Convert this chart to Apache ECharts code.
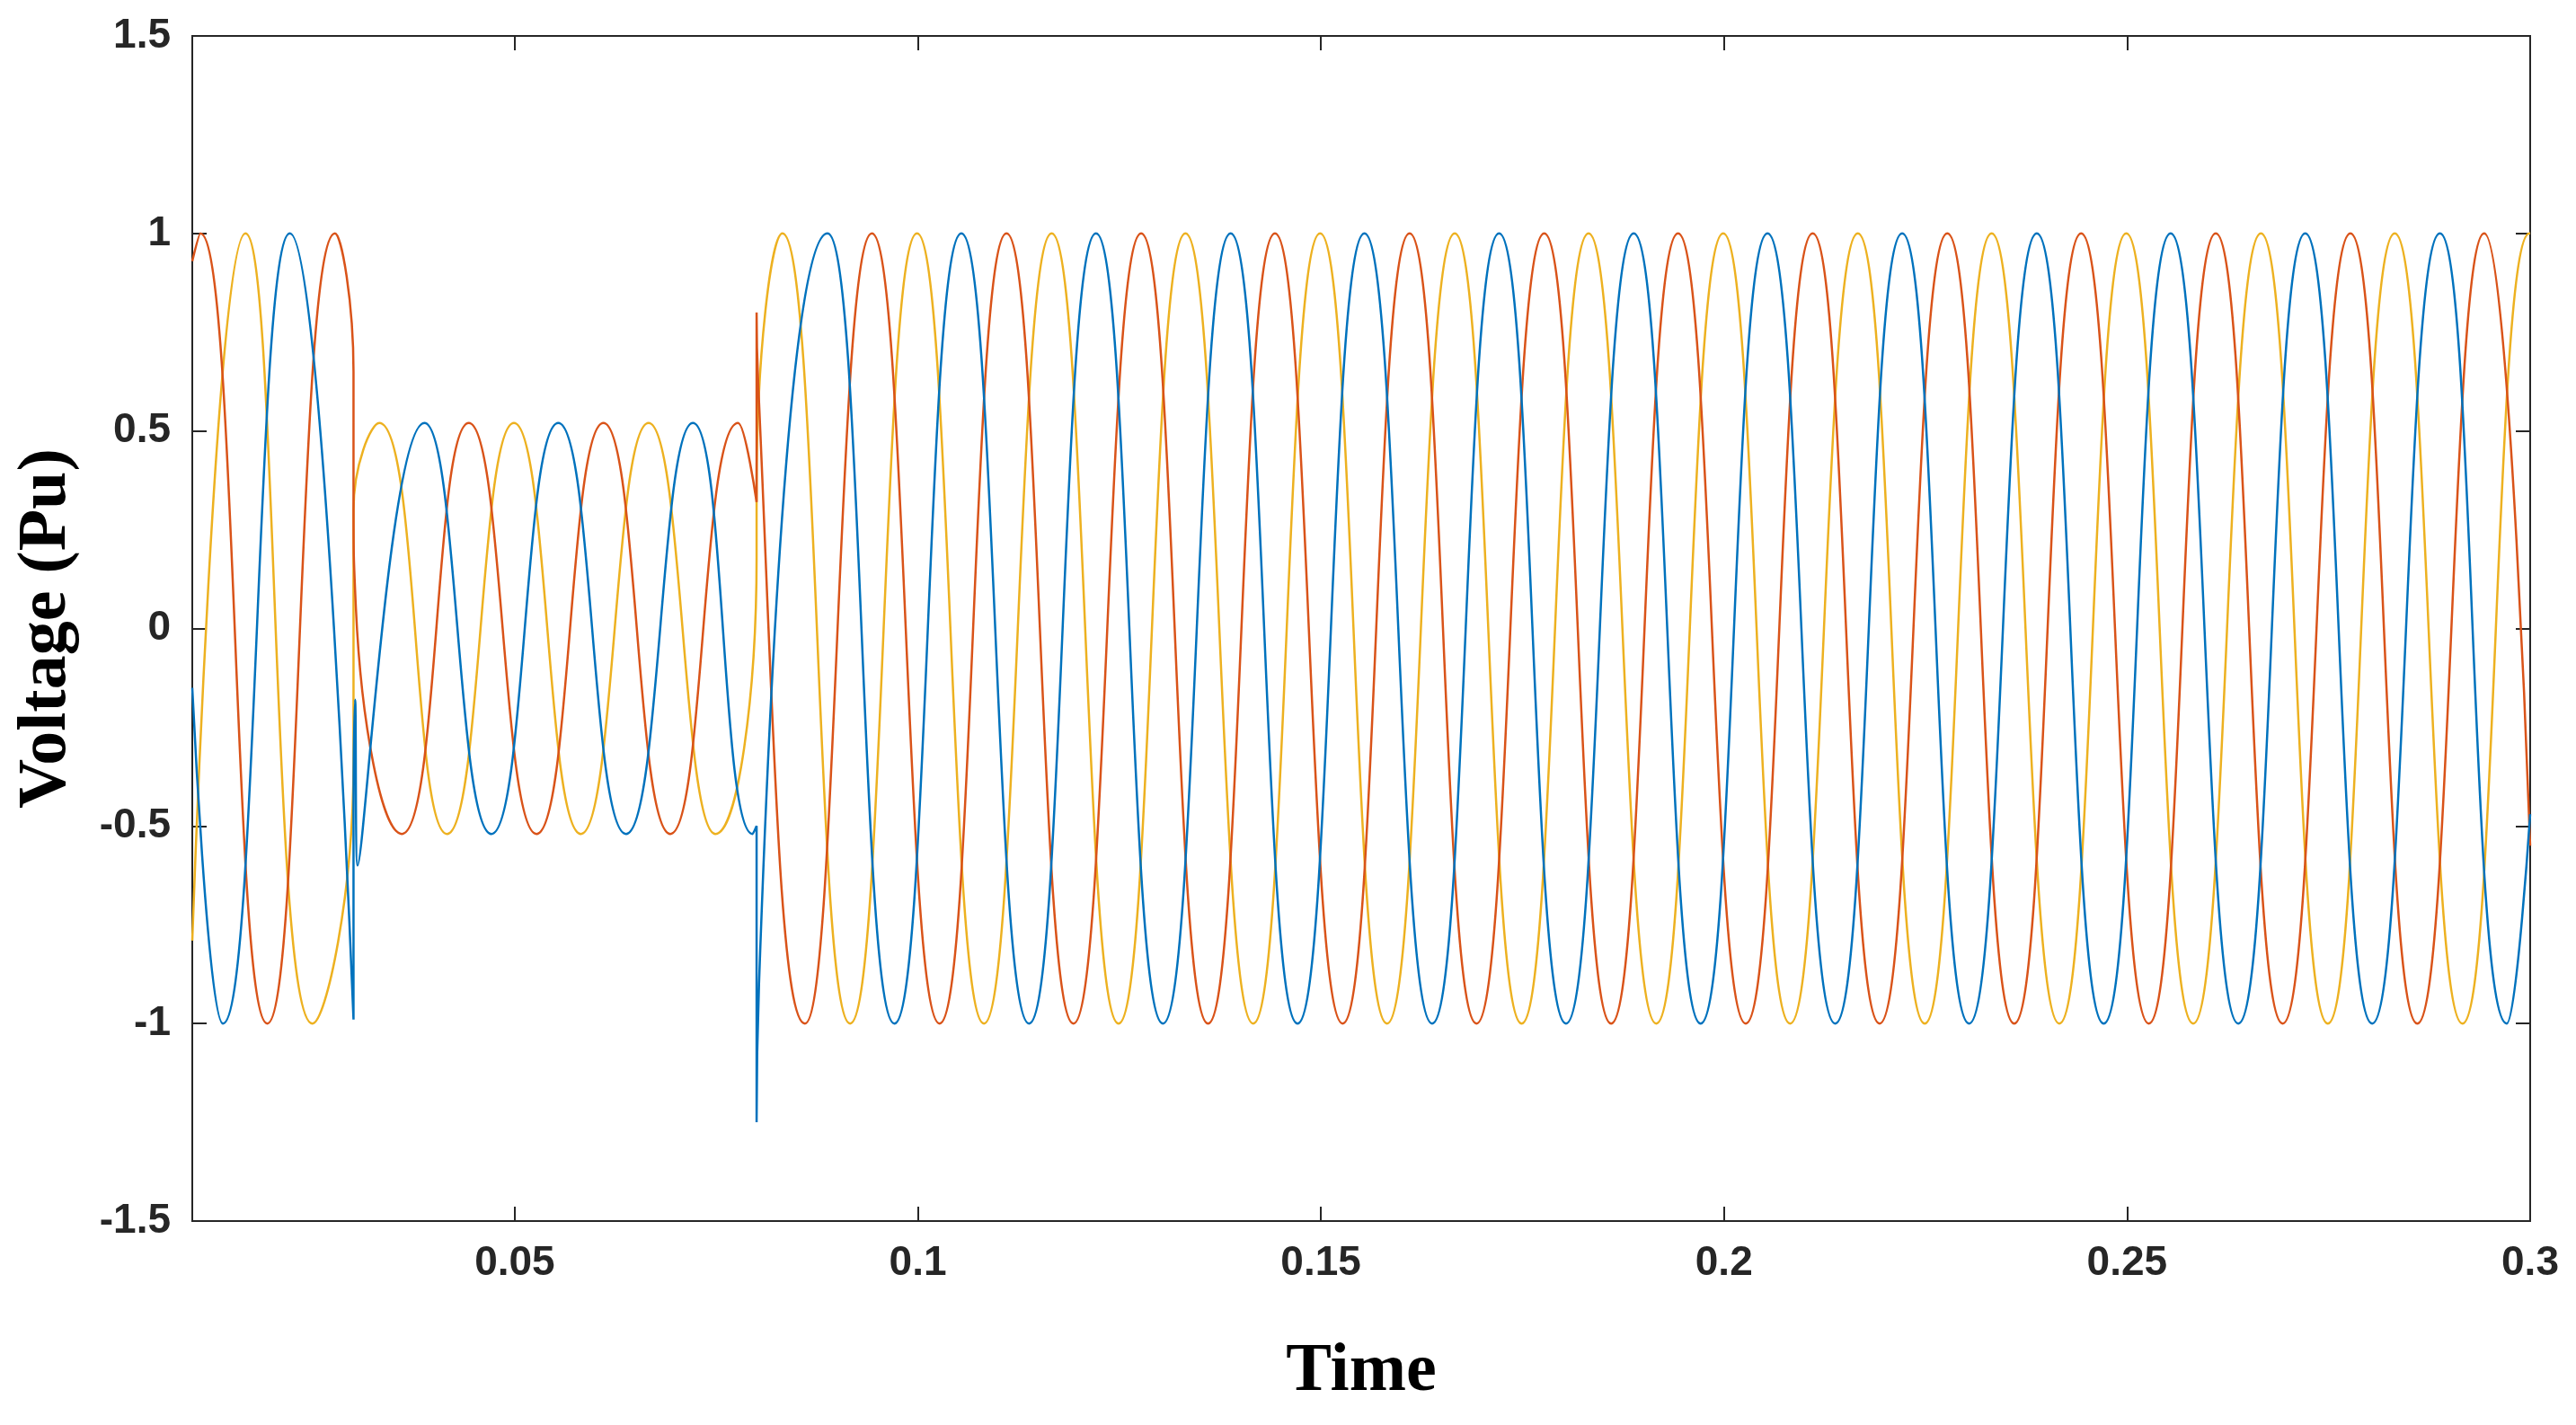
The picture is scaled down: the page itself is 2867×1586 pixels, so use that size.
<!DOCTYPE html>
<html>
<head>
<meta charset="utf-8">
<script src="https://cdn.jsdelivr.net/npm/echarts@6/dist/echarts.min.js"></script>
<style>html,body{margin:0;padding:0;background:#fff}#chart{width:2867px;height:1586px}</style>
</head>
<body>
<div id="chart"></div>
<script>
// tick labels
var xTicks = [0.05, 0.1, 0.15, 0.2, 0.25, 0.3];
var yTicks = [-1.5, -1, -0.5, 0, 0.5, 1, 1.5];

// extrema, [time, voltage]
var phaseRed = [[0.01,0.93],[0.011,1],[0.0193,-1],[0.0277,1],[0.03,0.65],[0.03,0.32],[0.0303,0.05],[0.036,-0.52],
  [0.0443,0.52],[0.0527,-0.52],[0.061,0.52],[0.0693,-0.52],[0.0777,0.52],[0.08,0.32],[0.08,0.8],[0.0802,0.62],
  [0.086,-1],[0.0943,1],[0.1027,-1],[0.111,1],[0.1193,-1],[0.1277,1],[0.136,-1],[0.1443,1],[0.1527,-1],[0.161,1],
  [0.1693,-1],[0.1777,1],[0.186,-1],[0.1943,1],[0.2027,-1],[0.211,1],[0.2193,-1],[0.2277,1],[0.236,-1],[0.2443,1],
  [0.2527,-1],[0.261,1],[0.2693,-1],[0.2777,1],[0.286,-1],[0.2943,1],[0.3,-0.55]];
var phaseBlue = [[0.01,-0.15],[0.0138,-1],[0.0221,1],[0.03,-0.99],[0.03,-0.5],[0.0302,-0.18],[0.0305,-0.6],
  [0.0388,0.52],[0.0471,-0.52],[0.0554,0.52],[0.0638,-0.52],[0.0721,0.52],[0.0795,-0.52],[0.08,-0.5],[0.08,-1.25],
  [0.0803,-0.9],[0.0888,1],[0.0971,-1],[0.1054,1],[0.1138,-1],[0.1221,1],[0.1304,-1],[0.1388,1],[0.1471,-1],
  [0.1554,1],[0.1638,-1],[0.1721,1],[0.1804,-1],[0.1888,1],[0.1971,-1],[0.2054,1],[0.2138,-1],[0.2221,1],
  [0.2304,-1],[0.2388,1],[0.2471,-1],[0.2554,1],[0.2638,-1],[0.2721,1],[0.2804,-1],[0.2888,1],[0.2971,-1],[0.3,-0.47]];
var phaseYellow = [[0.01,-0.79],[0.0166,1],[0.0249,-1],[0.03,-0.34],[0.03,0.3],[0.0332,0.52],[0.0416,-0.52],
  [0.0499,0.52],[0.0582,-0.52],[0.0666,0.52],[0.0749,-0.52],[0.08,0.18],[0.08,0.36],[0.0832,1],[0.0916,-1],
  [0.0999,1],[0.1082,-1],[0.1166,1],[0.1249,-1],[0.1332,1],[0.1416,-1],[0.1499,1],[0.1582,-1],[0.1666,1],
  [0.1749,-1],[0.1832,1],[0.1916,-1],[0.1999,1],[0.2082,-1],[0.2166,1],[0.2249,-1],[0.2332,1],[0.2416,-1],
  [0.2499,1],[0.2582,-1],[0.2666,1],[0.2749,-1],[0.2832,1],[0.2916,-1],[0.2999,1],[0.3,1]];

var lab = {fontFamily:'Liberation Sans', fontWeight:'bold', fontSize:46, color:'#262626'};
function mkLine(name, data, color){
  return {name:name, type:'line', data:data, smooth:0.5, showSymbol:false, symbol:'none',
    lineStyle:{color:color, width:2.5}, animation:false};
}
var option = {
  backgroundColor:'#fff',
  grid:{left:214, right:51, top:40, bottom:227, show:true, borderColor:'#262626', borderWidth:2},
  xAxis:[{
    type:'value', min:0.01, max:0.3,
    name:'Time', nameLocation:'middle', nameGap:130,
    nameTextStyle:{fontFamily:'Liberation Serif', fontWeight:'bold', fontSize:76, color:'#000'},
    axisLine:{onZero:false, lineStyle:{color:'#262626', width:2}},
    axisTick:{inside:true, length:16, customValues:xTicks, lineStyle:{color:'#262626', width:2}},
    axisLabel:Object.assign({margin:24, customValues:xTicks, formatter:function(v){return String(+v.toFixed(2));}}, lab),
    splitLine:{show:false}
  },{
    type:'value', position:'top', min:0.01, max:0.3,
    axisLine:{onZero:false, lineStyle:{color:'#262626', width:2}},
    axisTick:{inside:true, length:16, customValues:xTicks, lineStyle:{color:'#262626', width:2}},
    axisLabel:{show:false}, splitLine:{show:false}
  }],
  yAxis:[{
    type:'value', min:-1.5, max:1.5, interval:0.5,
    name:'Voltage (Pu)', nameLocation:'middle', nameGap:124,
    nameTextStyle:{fontFamily:'Liberation Serif', fontWeight:'bold', fontSize:76, color:'#000'},
    axisLine:{onZero:false, lineStyle:{color:'#262626', width:2}},
    axisTick:{inside:true, length:16, lineStyle:{color:'#262626', width:2}},
    axisLabel:Object.assign({margin:24}, lab),
    splitLine:{show:false}
  },{
    type:'value', position:'right', min:-1.5, max:1.5, interval:0.5,
    axisLine:{onZero:false, lineStyle:{color:'#262626', width:2}},
    axisTick:{inside:true, length:16, lineStyle:{color:'#262626', width:2}},
    axisLabel:{show:false}, splitLine:{show:false}
  }],
  series:[
    mkLine('C', phaseYellow, '#EDB120'),
    mkLine('B', phaseRed, '#D95319'),
    mkLine('A', phaseBlue, '#0072BD')
  ]
};
var chart = echarts.init(document.getElementById('chart'));
chart.setOption(option);
</script>
</body>
</html>
